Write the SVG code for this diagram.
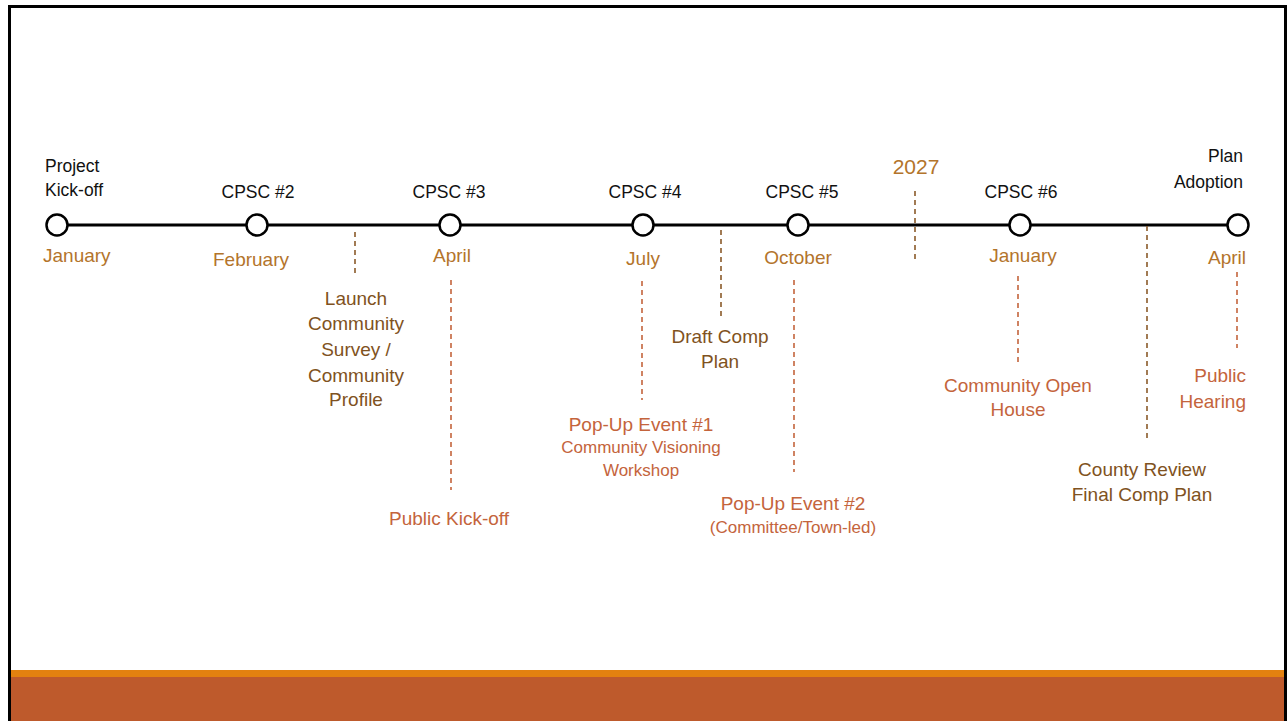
<svg xmlns="http://www.w3.org/2000/svg" width="1288" height="721" viewBox="0 0 1288 721">
<style>
text{font-family:"Liberation Sans",Arial,sans-serif}
.k{fill:#111;font-size:17.5px}
.m{fill:#B3742B;font-size:19px}
.b{fill:#7F5221;font-size:19px}
.r{fill:#C4643C;font-size:19px}
.rs{fill:#C4643C;font-size:17px}
.node{fill:#fff;stroke:#000;stroke-width:2.5}
.db{stroke:#8A5A2A;stroke-width:1.6;stroke-dasharray:5,4;fill:none}
.dr{stroke:#C4643C;stroke-width:1.6;stroke-dasharray:5,4;fill:none}
</style>
<rect x="0" y="0" width="1288" height="721" fill="#fff"/>
<rect x="9" y="670" width="1276" height="7" fill="#E3810F"/>
<rect x="9" y="677" width="1276" height="44" fill="#BE5A2C"/>
<path d="M9.5,721 V6.5 H1285.5 V721" fill="none" stroke="#000" stroke-width="3"/>
<g id="connectors">
<line x1="57" y1="225" x2="1238" y2="225" stroke="#000" stroke-width="3"/>
<line class="db" x1="355" y1="232" x2="355" y2="273"/>
<line class="dr" x1="451" y1="280" x2="451" y2="490"/>
<line class="dr" x1="642" y1="281" x2="642" y2="400"/>
<line class="db" x1="721" y1="230" x2="721" y2="320"/>
<line class="dr" x1="794" y1="280" x2="794" y2="472"/>
<line class="db" x1="915" y1="191" x2="915" y2="262"/>
<line class="dr" x1="1018" y1="276" x2="1018" y2="365"/>
<line class="db" x1="1147" y1="226" x2="1147" y2="438"/>
<line class="dr" x1="1237" y1="272" x2="1237" y2="348"/>
</g>
<g id="n1"><circle class="node" cx="57" cy="225" r="10.5"/>
<text class="k" x="45" y="172">Project</text><text class="k" x="45" y="196">Kick-off</text>
<text class="m" x="43" y="262">January</text></g>
<g id="n2"><circle class="node" cx="257" cy="225" r="10.5"/>
<text class="k" x="258" y="198" text-anchor="middle">CPSC #2</text>
<text class="m" x="251" y="266" text-anchor="middle">February</text></g>
<g id="n3"><circle class="node" cx="450" cy="225" r="10.5"/>
<text class="k" x="449" y="198" text-anchor="middle">CPSC #3</text>
<text class="m" x="452" y="262" text-anchor="middle">April</text></g>
<g id="n4"><circle class="node" cx="643" cy="225" r="10.5"/>
<text class="k" x="645" y="198" text-anchor="middle">CPSC #4</text>
<text class="m" x="643" y="265" text-anchor="middle">July</text></g>
<g id="n5"><circle class="node" cx="798" cy="225" r="10.5"/>
<text class="k" x="802" y="198" text-anchor="middle">CPSC #5</text>
<text class="m" x="798" y="264" text-anchor="middle">October</text></g>
<g id="n6"><circle class="node" cx="1020" cy="225" r="10.5"/>
<text class="k" x="1021" y="198" text-anchor="middle">CPSC #6</text>
<text class="m" x="1023" y="262" text-anchor="middle">January</text></g>
<g id="n7"><circle class="node" cx="1238" cy="225" r="10.5"/>
<text class="k" x="1243" y="162" text-anchor="end">Plan</text><text class="k" x="1243" y="188" text-anchor="end">Adoption</text>
<text class="m" x="1246" y="264" text-anchor="end">April</text></g>
<g id="year"><text class="m" x="916" y="174" text-anchor="middle" style="font-size:21px">2027</text></g>
<g id="launch"><text class="b" text-anchor="middle">
<tspan x="356" y="305">Launch</tspan><tspan x="356" y="330">Community</tspan><tspan x="356" y="356">Survey /</tspan><tspan x="356" y="382">Community</tspan><tspan x="356" y="406">Profile</tspan></text></g>
<g id="draft"><text class="b" text-anchor="middle"><tspan x="720" y="343">Draft Comp</tspan><tspan x="720" y="368">Plan</tspan></text></g>
<g id="popup1"><text class="r" x="641" y="431" text-anchor="middle">Pop-Up Event #1</text>
<text class="rs" text-anchor="middle"><tspan x="641" y="453">Community Visioning</tspan><tspan x="641" y="476">Workshop</tspan></text></g>
<g id="pubkick"><text class="r" x="449" y="525" text-anchor="middle">Public Kick-off</text></g>
<g id="popup2"><text class="r" x="793" y="510" text-anchor="middle">Pop-Up Event #2</text>
<text class="rs" x="793" y="533" text-anchor="middle">(Committee/Town-led)</text></g>
<g id="openhouse"><text class="r" text-anchor="middle"><tspan x="1018" y="392">Community Open</tspan><tspan x="1018" y="416">House</tspan></text></g>
<g id="hearing"><text class="r" text-anchor="end"><tspan x="1246" y="382">Public</tspan><tspan x="1246" y="408">Hearing</tspan></text></g>
<g id="county"><text class="b" text-anchor="middle"><tspan x="1142" y="476">County Review</tspan><tspan x="1142" y="501">Final Comp Plan</tspan></text></g>
</svg>
